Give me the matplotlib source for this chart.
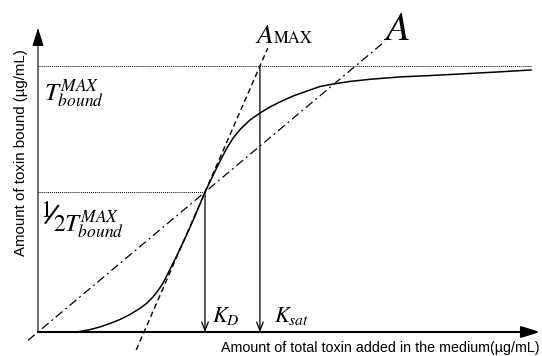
import matplotlib
matplotlib.use('Agg')
import matplotlib.pyplot as plt

plt.rcParams['mathtext.fontset'] = 'stix'

# binding curve (x: total toxin, y: bound toxin, T_max = 1)
toxin_added = [0.0, 0.234, 0.311, 0.371, 0.431, 0.491, 0.551, 0.611, 0.653, 0.689,
               0.719, 0.749, 0.778, 0.814, 0.850, 0.892, 0.928, 0.964, 1.0, 1.042,
               1.084, 1.126, 1.168, 1.210, 1.269, 1.329, 1.389, 1.449, 1.527, 1.611,
               1.689, 1.766, 1.868, 1.988, 2.168, 2.347, 2.527, 2.737, 2.952]
toxin_bound = [0.0, 0.0, 0.009, 0.019, 0.032, 0.047, 0.066, 0.089, 0.109, 0.132,
               0.156, 0.184, 0.220, 0.265, 0.312, 0.368, 0.419, 0.472, 0.526, 0.581,
               0.635, 0.686, 0.729, 0.761, 0.797, 0.823, 0.846, 0.865, 0.887, 0.906,
               0.923, 0.932, 0.942, 0.950, 0.959, 0.964, 0.970, 0.977, 0.985]

t_max = 1.0
t_half = 0.526
k_d = 1.0
k_sat = 1.329
amax_x = [0.588, 1.376]
a_x = [-0.06, 2.078]

# tangent at K_D reaching T_max at K_sat, and secant from origin through K_D
amax_slope = (t_max - t_half) / (k_sat - k_d)
amax_y = [t_half + amax_slope * (x - k_d) for x in amax_x]
a_y = [t_half / k_d * x for x in a_x]

fig = plt.figure(figsize=(5.42, 3.56), dpi=100)
ax = fig.add_axes([0, 0, 1, 1])
ax.set_xlim(-38 / 167, 504 / 167)
ax.set_ylim(-24 / 266, 332 / 266)
ax.axis('off')

# axes with arrows
ax.annotate('', xy=(3.006, 0), xytext=(0, 0),
            arrowprops=dict(arrowstyle='-|>,head_length=0.8,head_width=0.25',
                            lw=1.5, color='k', mutation_scale=14,
                            shrinkA=0, shrinkB=0))
ax.annotate('', xy=(0, 1.143), xytext=(0, 0),
            arrowprops=dict(arrowstyle='-|>,head_length=0.8,head_width=0.25',
                            lw=0.8, color='k', mutation_scale=14,
                            shrinkA=0, shrinkB=0))

# reference levels
ax.plot([0, toxin_added[-1]], [t_max, t_max], color='k', lw=0.7, ls=(0, (1, 1)))
ax.plot([0, k_d], [t_half, t_half], color='k', lw=0.7, ls=(0, (1, 1)))

# curve and lines
ax.plot(toxin_added, toxin_bound, color='k', lw=1.1)
ax.plot(amax_x, amax_y, color='k', lw=1.0, ls=(0, (4, 2.5)))
ax.plot(a_x, a_y, color='k', lw=0.9, ls=(0, (7, 3, 1.5, 3)))

# arrows down to K_D and K_sat
for kx, ky in [(k_d, t_half), (k_sat, t_max)]:
    ax.annotate('', xy=(kx, 0), xytext=(kx, ky),
                arrowprops=dict(arrowstyle='->,head_length=0.5,head_width=0.2',
                                lw=0.9, color='k', mutation_scale=12,
                                shrinkA=0, shrinkB=0))

# labels
ax.text(0.036, 0.872, r'$T_{bound}^{MAX}$', fontsize=18, ha='left', va='baseline')
ax.text(0.015, 0.432, '1', family='STIXGeneral', fontsize=17, ha='left', va='baseline')
ax.text(0.072, 0.433, '/', family='STIXGeneral', fontsize=23, rotation=-18,
        ha='center', va='center')
ax.text(0.090, 0.381, '2', family='STIXGeneral', fontsize=17, ha='left', va='baseline')
ax.text(0.156, 0.380, r'$T_{bound}^{MAX}$', fontsize=18, ha='left', va='baseline')

ax.text(1.305, 1.086, 'A', family='STIXGeneral', style='italic', fontsize=20,
        ha='left', va='baseline')
ax.text(1.413, 1.086, 'MAX', family='STIXGeneral', fontsize=12,
        ha='left', va='baseline')
ax.text(2.078, 1.098, 'A', family='STIXGeneral', style='italic', fontsize=29,
        ha='left', va='baseline')

ax.text(1.042, 0.038, r'$K_D$', fontsize=16, ha='left', va='baseline')
ax.text(1.413, 0.038, r'$K_{sat}$', fontsize=16, ha='left', va='baseline')

ax.text(3.006, -0.075, 'Amount of total toxin added in the medium(\u00b5g/mL)',
        family='Liberation Sans', fontsize=10.3, ha='right', va='baseline')
ax.text(-0.102, 0.675, 'Amount of toxin bound (\u00b5g/mL)',
        family='Liberation Sans', fontsize=10.8, ha='center', va='center', rotation=90)

fig.savefig('out.png', dpi=100)
